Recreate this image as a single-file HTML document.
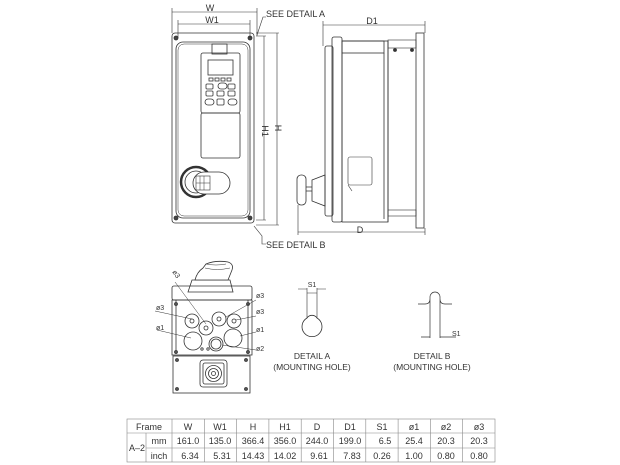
<!DOCTYPE html>
<html><head><style>body{margin:0;background:#fff}svg{display:block}text{font-family:"Liberation Sans",sans-serif;fill:#333}</style></head><body>
<svg width="620" height="465" viewBox="0 0 620 465" fill="none" stroke="#333" stroke-width="0.8">
<!-- FRONT VIEW -->
<rect x="172" y="33" width="82" height="190" rx="3"/>
<rect x="176" y="42" width="74" height="176" rx="7"/>
<rect x="178" y="44" width="70" height="172" rx="6" stroke-width="0.5"/>
<g fill="#444"><circle cx="176" cy="38" r="2"/><circle cx="250" cy="38" r="2"/><circle cx="176" cy="218" r="2"/><circle cx="250" cy="218" r="2"/></g>
<rect x="212" y="44" width="15" height="10"/>
<rect x="201" y="53" width="39" height="60" rx="2"/>
<rect x="208" y="60" width="25" height="15"/>
<g stroke-width="0.8"><rect x="209" y="78" width="4" height="3"/><rect x="215" y="78" width="4" height="3"/><rect x="221" y="78" width="4" height="3"/><rect x="227" y="78" width="4" height="3"/>
<rect x="206" y="84" width="7" height="5" rx="1"/><rect x="218" y="83" width="9" height="6" rx="3"/><rect x="228" y="84" width="7" height="5" rx="1"/>
<rect x="206" y="91" width="7" height="5" rx="1"/><rect x="217" y="91" width="7" height="5" rx="1"/><rect x="228" y="91" width="7" height="5" rx="1"/>
<rect x="205" y="99" width="9" height="6" rx="3"/><rect x="217" y="99" width="7" height="6" rx="1"/><rect x="228" y="99" width="9" height="6" rx="3"/></g>
<rect x="201" y="113" width="39" height="45" rx="2"/>
<circle cx="196" cy="182" r="15" stroke-width="2.5"/>
<circle cx="196" cy="182" r="11"/>
<rect x="193" y="172" width="37" height="22" rx="11" fill="#fff"/>
<rect x="196" y="176" width="14" height="14" stroke-width="0.6"/>
<path d="M200 176v14M204 176v14M196 183h14" stroke-width="0.5"/>
<!-- front dims -->
<path d="M172 12h85M172 8v25M257 8v28M178 24h72M178 20v18M250 20v18" stroke-width="0.6"/>
<path d="M257 35l6-18h3M264 36v184M277 33v192M256 36h10M256 220h10M256 33h23M256 225h23M254 226l8 10l0 8h4" stroke-width="0.6"/>
<text x="210" y="11" font-size="9" text-anchor="middle" stroke="none">W</text>
<text x="212" y="23" font-size="9" text-anchor="middle" stroke="none">W1</text>
<text x="266" y="17" font-size="9" stroke="none">SEE DETAIL A</text>
<text x="266" y="248" font-size="9" stroke="none">SEE DETAIL B</text>
<text x="0" y="0" font-size="9" stroke="none" transform="translate(262,131) rotate(90)" text-anchor="middle">H1</text>
<text x="0" y="0" font-size="9" stroke="none" transform="translate(275,128) rotate(90)" text-anchor="middle">H</text>
<!-- SIDE VIEW -->
<rect x="325" y="46" width="8" height="170" rx="2"/>
<rect x="332" y="37" width="10" height="185" rx="2"/>
<rect x="342" y="41" width="46" height="181"/>
<rect x="342" y="41" width="42" height="12"/>
<path d="M388 41v181M384 53v166" />
<rect x="388" y="40" width="28" height="8" stroke-width="0.6"/>
<rect x="388" y="210" width="28" height="6" stroke-width="0.6"/>
<rect x="416" y="33" width="8" height="195"/>
<circle cx="395" cy="50" r="1.5" fill="#333"/><circle cx="412" cy="50" r="1.5" fill="#333"/>
<rect x="348" y="157" width="24" height="28" rx="2" stroke-width="0.6"/>
<path d="M348 185l4 6" stroke-width="0.6"/>
<rect x="297" y="175" width="9" height="30" rx="4"/>
<path d="M306 187h6M306 191h6M312 180l13-5v31l-13-5z"/>
<path d="M323 25h102M323 21v25M425 21v12M298 232h127M298 205v30M425 228v7" stroke-width="0.6"/>
<text x="372" y="24" font-size="9" text-anchor="middle" stroke="none">D1</text>
<text x="360" y="233" font-size="9" text-anchor="middle" stroke="none">D</text>
<!-- BOTTOM VIEW -->
<path d="M188 292l4-12h38l3 12z"/>
<path d="M195 280q2-8 8-12l3-4q10-4 22-2q6 2 4 8l-4 10z" fill="#fff"/>
<path d="M206 264q10 2 20 0M205 268q12 3 25 0" stroke-width="0.5"/>
<rect x="172" y="286" width="80" height="14" rx="2"/>
<rect x="172" y="300" width="80" height="55"/>
<path d="M176 300v54M248 300v54"/>
<g fill="#555"><circle cx="176" cy="304" r="1.5"/><circle cx="248" cy="304" r="1.5"/><circle cx="176" cy="352" r="1.5"/><circle cx="248" cy="352" r="1.5"/></g>
<g><circle cx="192" cy="321" r="7"/><circle cx="192" cy="321" r="2"/>
<circle cx="206" cy="328" r="7"/><circle cx="206" cy="328" r="2"/>
<circle cx="219" cy="319" r="7"/><circle cx="219" cy="319" r="2"/>
<circle cx="234" cy="321" r="7"/><circle cx="234" cy="321" r="2"/>
<circle cx="193" cy="341" r="9"/><circle cx="233" cy="338" r="9"/>
<circle cx="216" cy="344" r="7"/><circle cx="216" cy="344" r="5"/>
<circle cx="202" cy="349" r="1.2"/><circle cx="208" cy="349" r="1.2"/></g>
<rect x="173" y="356" width="77" height="37"/>
<g fill="#555"><circle cx="177" cy="360" r="1.5"/><circle cx="246" cy="360" r="1.5"/><circle cx="177" cy="389" r="1.5"/><circle cx="246" cy="389" r="1.5"/></g>
<rect x="200" y="360" width="27" height="27" rx="3"/><rect x="203" y="363" width="21" height="21" rx="2"/>
<circle cx="213.5" cy="373.5" r="8"/><circle cx="213.5" cy="373.5" r="5"/><circle cx="213.5" cy="373.5" r="2"/>
<g stroke-width="0.5"><path d="M175 282l31 42M155 311l37 8M256 300l-30 17M256 316l-20 4M157 330l34 8M256 332l-16 4M256 350l-34-5"/></g>
<g font-size="7" stroke="none"><text x="0" y="0" transform="translate(172,272) rotate(55)">ø3</text>
<text x="156" y="310">ø3</text><text x="256" y="298">ø3</text><text x="256" y="314">ø3</text>
<text x="156" y="330">ø1</text><text x="256" y="332">ø1</text><text x="256" y="351">ø2</text></g>
<!-- DETAIL A -->
<path d="M307 288v30M317 288v30M298 289h9M317 289h9M307 293h10" stroke-width="0.6"/>
<path d="M307 318a10 10 0 1 0 10 0a6 6 0 0 0-10 0z"/>
<text x="312" y="287" font-size="7" text-anchor="middle" stroke="none">S1</text>
<text x="312" y="359" font-size="8.5" text-anchor="middle" stroke="none">DETAIL A</text>
<text x="312" y="370" font-size="8.5" text-anchor="middle" stroke="none">(MOUNTING HOLE)</text>
<!-- DETAIL B -->
<path d="M418 304h7q5 0 5-5v-2a5 5 0 0 1 10 0v2q0 5 5 5h7M430 299v39M440 299v39M421 337h9M440 337h16" stroke-width="0.7"/>
<text x="452" y="336" font-size="7" stroke="none">S1</text>
<text x="432" y="359" font-size="8.5" text-anchor="middle" stroke="none">DETAIL B</text>
<text x="432" y="370" font-size="8.5" text-anchor="middle" stroke="none">(MOUNTING HOLE)</text>
<!-- TABLE -->
<g stroke="#888" stroke-width="0.6">
<rect x="127" y="419" width="368" height="43"/>
<path d="M127 433h368M146 448h349M146 433v29M172 419v43M204.3 419v43M236.6 419v43M268.9 419v43M301.2 419v43M333.5 419v43M365.8 419v43M398.1 419v43M430.4 419v43M462.7 419v43"/>
</g>
<g font-size="9" text-anchor="middle" stroke="none" style="fill:#555">
<text x="149" y="430">Frame</text>
<text x="188" y="430">W</text><text x="220" y="430">W1</text><text x="253" y="430">H</text><text x="285" y="430">H1</text><text x="317" y="430">D</text><text x="350" y="430">D1</text><text x="382" y="430">S1</text><text x="414" y="430">ø1</text><text x="446" y="430">ø2</text><text x="479" y="430">ø3</text>
<text x="137" y="451">A–2</text>
<text x="159" y="444">mm</text><text x="159" y="459">inch</text>
<text x="188" y="444">161.0</text><text x="220" y="444">135.0</text><text x="253" y="444">366.4</text><text x="285" y="444">356.0</text><text x="317" y="444">244.0</text><text x="350" y="444">199.0</text><text x="385" y="444">6.5</text><text x="414" y="444">25.4</text><text x="446" y="444">20.3</text><text x="479" y="444">20.3</text>
<text x="190" y="459">6.34</text><text x="222" y="459">5.31</text><text x="253" y="459">14.43</text><text x="285" y="459">14.02</text><text x="319" y="459">9.61</text><text x="352" y="459">7.83</text><text x="382" y="459">0.26</text><text x="414" y="459">1.00</text><text x="446" y="459">0.80</text><text x="479" y="459">0.80</text>
</g>
</svg>
</body></html>
